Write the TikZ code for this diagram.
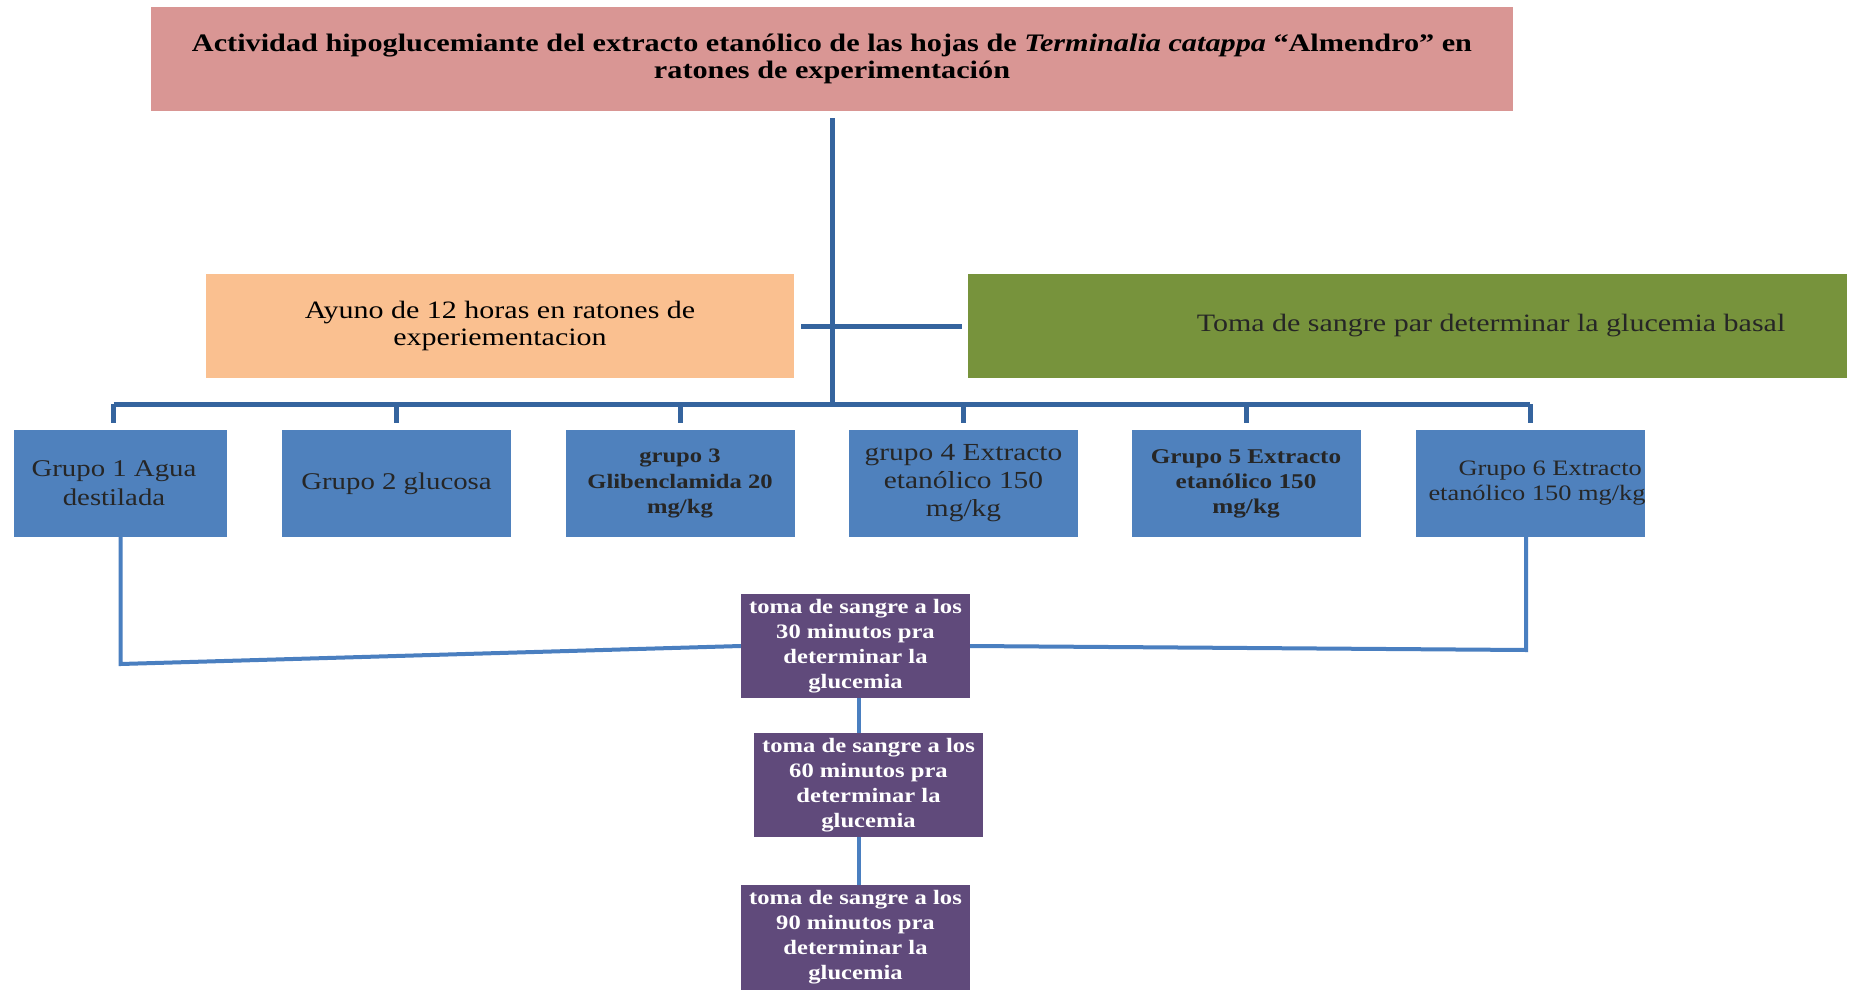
\documentclass[tikz,border=0pt]{standalone}
\usepackage{fontspec}
\setmainfont[FakeStretch=1.2]{Liberation Serif}
\begin{document}
\begin{tikzpicture}[x=1pt,y=-1pt,
  box/.style={minimum height=104pt, inner sep=0pt, align=center, font=\fontsize{25}{27}\selectfont},
  grp/.style={box, fill=blueF, minimum width=229pt, minimum height=107pt, text=black!85},
  tbox/.style={box, fill=purpleF, minimum width=229pt, text=white, font=\bfseries\fontsize{20.5}{25}\selectfont},
  topline/.style={draw=lineD, line width=5pt},
  botline/.style={draw=lineL, line width=4pt}]
\definecolor{pinkF}{HTML}{D99694}
\definecolor{orangeF}{HTML}{FAC090}
\definecolor{greenF}{HTML}{77933C}
\definecolor{blueF}{HTML}{4F81BD}
\definecolor{purpleF}{HTML}{604A7B}
\definecolor{lineD}{HTML}{35649E}
\definecolor{lineL}{HTML}{4A7FC0}
\useasboundingbox[fill=white] (0,0) rectangle (1853,990);

\node[box, fill=pinkF, minimum width=1362pt, font=\bfseries\fontsize{25.2}{27}\selectfont] (title) at (832,59)
  {Actividad hipoglucemiante del extracto etanólico de las hojas de \textit{Terminalia catappa} “Almendro” en\\ ratones de experimentación};
\node[box, fill=orangeF, minimum width=588pt] (ayuno) at (500,326)
  {Ayuno de 12 horas en ratones de\\ experiementacion};
\node[box, fill=greenF, minimum width=879pt] (basal) at (1407.5,326) {};
\node[font=\fontsize{25}{27}\selectfont, text=black!85] (basaltxt) at (1491,326) {Toma de sangre par determinar la glucemia basal};

\node[grp, minimum width=213pt] (g1) at (120.5,483.5) {};
\node[font=\fontsize{24}{29}\selectfont, align=center, text=black!85, inner sep=0pt] (g1txt) at (114,483) {Grupo 1 Agua\\ destilada};
\node[grp, font=\fontsize{24}{29}\selectfont] (g2) at (396.5,483.5) {Grupo 2 glucosa};
\node[grp, font=\bfseries\fontsize{20.5}{25.5}\selectfont] (g3) at (680,483.5) {grupo 3\\ Glibenclamida 20\\ mg/kg};
\node[grp, font=\fontsize{24.5}{28}\selectfont] (g4) at (963.5,483.5) {grupo 4 Extracto\\ etanólico 150\\ mg/kg};
\node[grp, font=\bfseries\fontsize{21}{25}\selectfont] (g5) at (1246,483.5) {Grupo 5 Extracto\\ etanólico 150\\ mg/kg};
\node[grp] (g6) at (1530,483.5) {};
\node[font=\fontsize{22}{25}\selectfont, align=center, text=black!85, inner sep=0pt] (g6txt) at (1537,483) {\hspace*{1.2em}Grupo 6 Extracto\\ etanólico 150 mg/kg};

\node[tbox] (t30) at (855.5,646) {toma de sangre a los\\ 30 minutos pra\\ determinar la\\ glucemia};
\node[tbox] (t60) at (868.5,785) {toma de sangre a los\\ 60 minutos pra\\ determinar la\\ glucemia};
\node[tbox, minimum height=105pt] (t90) at (855.5,937.5) {toma de sangre a los\\ 90 minutos pra\\ determinar la\\ glucemia};

\coordinate (bus) at (832,404);
\draw[topline, shorten <=7pt] (title.south) -- (bus);
\draw[topline, shorten <=7pt, shorten >=6pt] (ayuno.east) -- (basal.west);
\draw[topline] ([xshift=-7pt]g1.north |- bus) -- (g6.north |- bus);
\draw[topline, shorten <=7pt] ([xshift=-7pt]g1.north) -- ([xshift=-7pt]g1.north |- bus);
\foreach \g in {g2,g3,g4,g5,g6}
  \draw[topline, shorten <=7pt] (\g.north) -- (\g.north |- bus);

\draw[botline] (g1.south) -- (g1.south |- 0,664) -- (t30.west);
\draw[botline] ([xshift=-4pt]g6.south) -- ([xshift=-4pt]g6.south |- 0,650) -- (t30.east);
\draw[botline] ([xshift=3pt]t30.south) -- ([xshift=3pt]t30.south |- t60.north);
\draw[botline] ([xshift=3pt]t30.south |- t60.south) -- ([xshift=3pt]t90.north);
\end{tikzpicture}
\end{document}
